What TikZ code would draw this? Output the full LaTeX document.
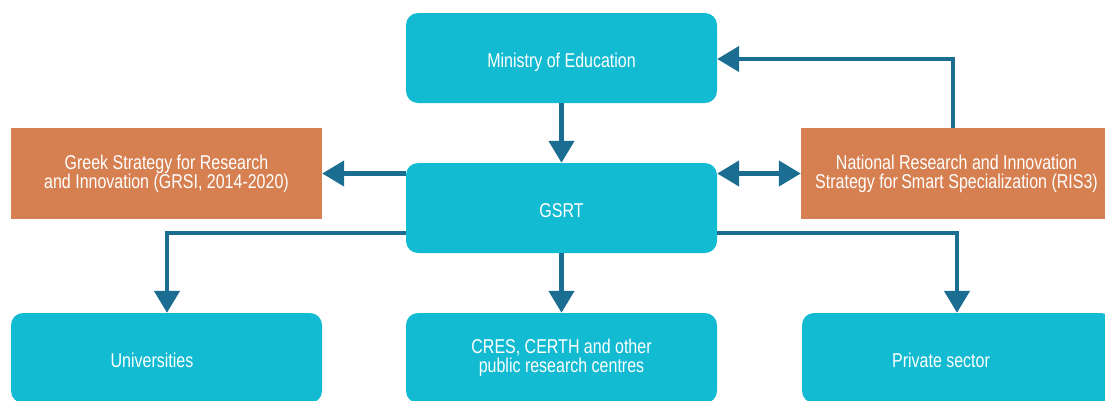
\documentclass[tikz,border=0pt]{standalone}
\usepackage{fontspec}
\setmainfont[FakeStretch=0.8]{Liberation Sans}
\usetikzlibrary{arrows.meta}
\definecolor{boxcyan}{RGB}{18,186,210}
\definecolor{boxorange}{RGB}{214,128,82}
\definecolor{linkblue}{RGB}{27,110,145}
\begin{document}
\begin{tikzpicture}[x=1pt,y=-1pt,
  base/.style={minimum width=311pt, inner sep=0pt, text=white, align=center,
    font=\fontsize{20}{19}\selectfont},
  bluebox/.style={base, fill=boxcyan, rounded corners=12pt, minimum height=90pt},
  orangebox/.style={base, fill=boxorange, minimum height=91pt},
  oneline/.style={text height=18pt, text depth=0pt},
  txt/.style={anchor=base, inner sep=0pt, text=white, font=\fontsize{20}{19}\selectfont},
  link/.style={draw=linkblue, line width=4.5pt,
    -{Triangle[width=25pt,length=22pt]}},
  dlink/.style={draw=linkblue, line width=4.5pt,
    {Triangle[width=25pt,length=22pt]}-{Triangle[width=25pt,length=22pt]}}]
\useasboundingbox (0,0) rectangle (1105,400);
\clip (0,0) rectangle (1105,400);

\node[bluebox, oneline] (min) at (561.5,58) {Ministry of Education};
\node[bluebox, oneline] (gsrt) at (561.5,208) {GSRT};
\node[orangebox] (grsi) at (166.5,173.5) {Greek Strategy for Research\\and Innovation (GRSI, 2014-2020)};
\node[orangebox] (ris) at (956.5,173.5) {National Research and Innovation\\Strategy for\,Smart Specialization (RIS3)};
\node[bluebox] (uni) at (166.5,358) {};
\node[txt] (tuni) at ([xshift=-14.5pt,yshift=-9pt]uni.center) {Universities};
\node[bluebox] (cres) at (561.5,358) {CRES, CERTH and other\\public research centres};
\node[bluebox] (priv) at (957.5,358) {};
\node[txt] (tpriv) at ([xshift=-16.5pt,yshift=-9pt]priv.center) {Private sector};

\coordinate (rup) at (953,59);
\coordinate (lcorner) at (167,233);
\coordinate (rcorner) at (957,233);

\draw[link] (min.south) -- (gsrt.north);
\draw[link] (gsrt.west |- grsi.east) -- (grsi.east);
\draw[dlink] (gsrt.east |- ris.west) -- (ris.west);
\draw[link] (ris.north -| rup) -- (rup) -- (rup -| min.east);
\draw[link] (gsrt.west |- lcorner) -- (lcorner) -- (lcorner |- uni.north);
\draw[link] (gsrt.south) -- (cres.north);
\draw[link] (gsrt.east |- rcorner) -- (rcorner) -- (rcorner |- priv.north);
\end{tikzpicture}
\end{document}
